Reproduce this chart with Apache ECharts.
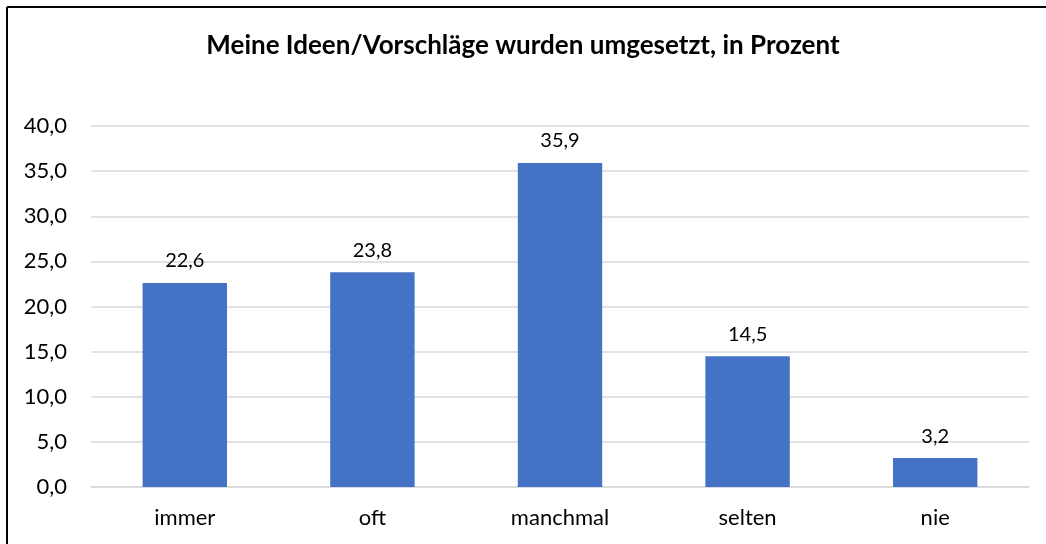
<!DOCTYPE html>
<html><head><meta charset="utf-8">
<script src="https://cdn.jsdelivr.net/npm/echarts@6/dist/echarts.min.js"></script>
<style>html,body{margin:0;padding:0;background:#fff}#c{width:1046px;height:544px}</style>
</head><body><div id="c"></div>
<script>
const titleText = 'Meine Ideen/Vorschläge wurden umgesetzt, in Prozent';
const categories = ['immer', 'oft', 'manchmal', 'selten', 'nie'];
const values = [22.6, 23.8, 35.9, 14.5, 3.2];
const yMin = 0, yMax = 40, yStep = 5;
const fmt = v => v.toFixed(1).replace('.', ',');
const chart = echarts.init(document.getElementById('c'));
chart.setOption({
  animation: false,
  textStyle: { fontFamily: 'Lato' },
  title: {
    text: titleText, left: 'center', top: 28,
    textStyle: { fontFamily: 'Lato', fontWeight: 'bold', fontSize: 26, color: '#000' }
  },
  graphic: [
    { type: 'line', shape: { x1: 7, y1: 7, x2: 1046, y2: 7 }, style: { stroke: '#000', lineWidth: 2 } },
    { type: 'line', shape: { x1: 7, y1: 7, x2: 7, y2: 544 }, style: { stroke: '#000', lineWidth: 2 } }
  ],
  grid: { left: 91, right: 17, top: 126, bottom: 57, containLabel: false },
  xAxis: {
    type: 'category', data: categories,
    axisLine: { show: true, lineStyle: { color: '#d9d9d9', width: 1.5 } },
    axisTick: { show: false },
    axisLabel: { color: '#000', fontSize: 22, margin: 20, fontFamily: 'Lato' }
  },
  yAxis: {
    type: 'value', min: yMin, max: yMax, interval: yStep,
    axisLine: { show: false }, axisTick: { show: false },
    splitLine: { lineStyle: { color: '#d9d9d9', width: 1.5 } },
    axisLabel: { color: '#000', fontSize: 22, margin: 24, formatter: v => fmt(v), fontFamily: 'Lato' }
  },
  series: [{
    type: 'bar', data: values, barWidth: '45%',
    itemStyle: { color: '#4472C4' },
    label: { show: true, position: 'top', distance: 12, color: '#000', fontSize: 20, fontFamily: 'Lato', formatter: p => fmt(p.value) }
  }]
});
</script></body></html>
